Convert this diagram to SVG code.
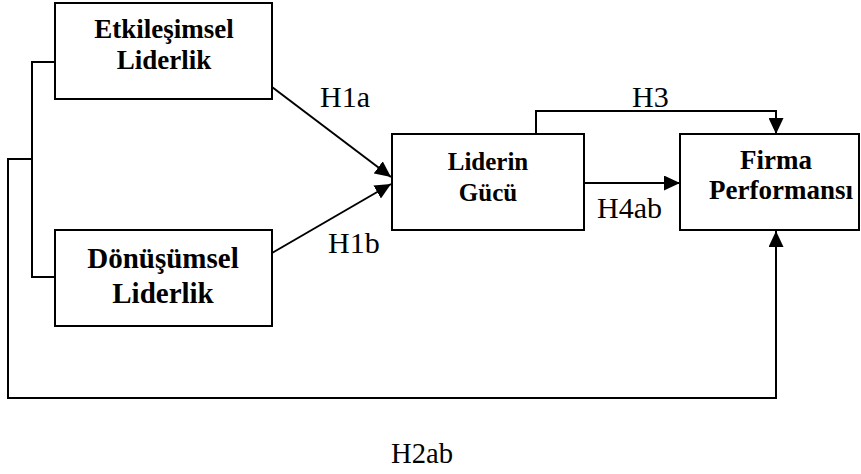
<svg xmlns="http://www.w3.org/2000/svg" width="861" height="474" viewBox="0 0 861 474">
  <style>
    .box { fill: #fff; stroke: #000; stroke-width: 2; }
    .name { font-family: "Liberation Serif", "Times New Roman", serif; font-weight: bold; fill: #000; text-anchor: middle; }
    .lbl { font-family: "Liberation Serif", "Times New Roman", serif; font-size: 30px; fill: #000; }
    .wire { fill: none; stroke: #000; stroke-width: 2; }
  </style>
  <defs>
    <marker id="arrow" markerUnits="userSpaceOnUse" markerWidth="16" markerHeight="15" refX="16" refY="7.5" orient="auto">
      <path d="M0,0 L16,7.5 L0,15 z" fill="#000"/>
    </marker>
  </defs>
  <rect width="861" height="474" fill="#fff"/>

  <g id="connectors">
    <!-- bracket joining the two leadership styles -->
    <path class="wire" d="M55,62 H32 V277 H55"/>
    <!-- H2ab: direct path to firm performance -->
    <path class="wire" d="M32,159 H8 V398 H776 V231" marker-end="url(#arrow)"/>
    <!-- H1a / H1b -->
    <line class="wire" x1="272" y1="87" x2="391" y2="177" marker-end="url(#arrow)"/>
    <line class="wire" x1="272" y1="253" x2="391" y2="184" marker-end="url(#arrow)"/>
    <!-- H3 -->
    <path class="wire" d="M536,134 V111 H776 V134" marker-end="url(#arrow)"/>
    <!-- H4ab -->
    <line class="wire" x1="584" y1="183" x2="680" y2="183" marker-end="url(#arrow)"/>
  </g>

  <g id="etkilesimsel">
    <rect class="box" x="55" y="3" width="217" height="96"/>
    <text class="name" x="164" y="38" font-size="27">Etkileşimsel</text>
    <text class="name" x="164" y="69" font-size="27">Liderlik</text>
  </g>

  <g id="donusumsel">
    <rect class="box" x="55" y="230" width="217" height="96"/>
    <text class="name" x="163" y="268" font-size="29">Dönüşümsel</text>
    <text class="name" x="163" y="303" font-size="29">Liderlik</text>
  </g>

  <g id="liderin-gucu">
    <rect class="box" x="392" y="134" width="192" height="96"/>
    <text class="name" x="488" y="170" font-size="25">Liderin</text>
    <text class="name" x="488" y="201" font-size="25">Gücü</text>
  </g>

  <g id="firma-performansi">
    <rect class="box" x="680" y="134" width="179" height="96"/>
    <text class="name" x="776" y="169" font-size="27">Firma</text>
    <text class="name" x="781" y="199" font-size="27">Performansı</text>
  </g>

  <g id="labels">
    <text class="lbl" x="320" y="107">H1a</text>
    <text class="lbl" x="328" y="253">H1b</text>
    <text class="lbl" x="632" y="107">H3</text>
    <text class="lbl" x="597" y="218">H4ab</text>
    <text class="lbl" x="391" y="463" textLength="62" lengthAdjust="spacingAndGlyphs">H2ab</text>
  </g>
</svg>
